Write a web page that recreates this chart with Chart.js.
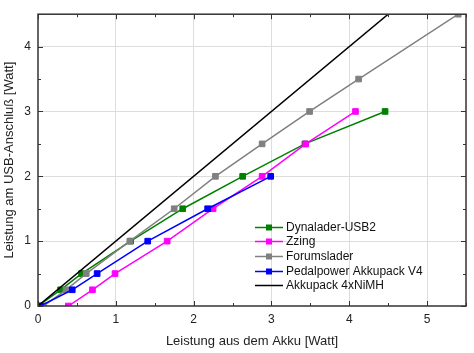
<!DOCTYPE html>
<html>
<head>
<meta charset="utf-8">
<script src="https://cdn.jsdelivr.net/npm/chart.js@4"></script>
<style>
html,body{margin:0;padding:0;background:#fff;}
#wrap{width:474px;height:353px;position:relative;}
</style>
</head>
<body>
<div id="wrap"><canvas id="c" width="474" height="353"></canvas></div>
<script>
const seriesNames = ["Dynalader-USB2", "Zzing", "Forumslader", "Pedalpower Akkupack V4", "Akkupack 4xNiMH"];
const dynaladerX = [0.0, 0.29, 0.56, 1.19, 1.86, 2.63, 3.43, 4.46];
const dynaladerY = [0, 0.25, 0.5, 1.0, 1.5, 2.0, 2.5, 3.0];
const zzingX = [0.39, 0.70, 0.99, 1.66, 2.25, 2.88, 3.44, 4.08];
const zzingY = [0, 0.25, 0.5, 1.0, 1.5, 2.0, 2.5, 3.0];
const forumsladerX = [0.07, 0.36, 0.62, 1.18, 1.75, 2.28, 2.88, 3.49, 4.12, 5.40];
const forumsladerY = [0, 0.25, 0.5, 1.0, 1.5, 2.0, 2.5, 3.0, 3.5, 4.5];
const pedalpowerX = [0.03, 0.44, 0.76, 1.41, 2.18, 2.99];
const pedalpowerY = [0, 0.25, 0.5, 1.0, 1.5, 2.0];
const akkupackX = [0.0, 4.5];
const akkupackY = [0.0, 4.5];
const xTicks = [0, 1, 2, 3, 4, 5];
const yTicks = [0, 1, 2, 3, 4];

const colors = ["#008000", "#ff00ff", "#808080", "#0000ff", "#000000"];
const markers = [true, true, true, true, false];
const xs = [dynaladerX, zzingX, forumsladerX, pedalpowerX, akkupackX];
const ys = [dynaladerY, zzingY, forumsladerY, pedalpowerY, akkupackY];

const datasets = seriesNames.map((name, i) => ({
  label: name,
  data: xs[i].map((x, j) => ({x: x, y: ys[i][j]})),
  showLine: true,
  borderColor: colors[i],
  backgroundColor: colors[i],
  borderWidth: 1.5,
  pointStyle: 'rect',
  pointRadius: markers[i] ? 4 : 0,
  pointBorderWidth: 1,
  pointBorderColor: colors[i],
  pointBackgroundColor: colors[i],
  order: 10 - i,
  tension: 0
}));

const FONT = "'Liberation Sans', Arial, sans-serif";

const framePlugin = {
  id: 'frame',
  afterDatasetsDraw(chart) {
    const ctx = chart.ctx;
    const a = chart.chartArea;
    const xs_ = chart.scales.x, ys_ = chart.scales.y;
    ctx.save();
    ctx.strokeStyle = '#333333';
    ctx.lineWidth = 1;
    // ticks inward
    for (let v = 0; v <= 5.5001; v += 0.5) {
      const px = Math.round(xs_.getPixelForValue(v)) + 0.5;
      const len = (Math.abs(v - Math.round(v)) < 1e-6) ? 5 : 3;
      ctx.beginPath();
      ctx.moveTo(px, a.bottom); ctx.lineTo(px, a.bottom - len);
      ctx.moveTo(px, a.top); ctx.lineTo(px, a.top + len);
      ctx.stroke();
    }
    for (let v = 0; v <= 4.5001; v += 0.5) {
      const py = Math.round(ys_.getPixelForValue(v)) + 0.5;
      const len = (Math.abs(v - Math.round(v)) < 1e-6) ? 5 : 3;
      ctx.beginPath();
      ctx.moveTo(a.left, py); ctx.lineTo(a.left + len, py);
      ctx.moveTo(a.right, py); ctx.lineTo(a.right - len, py);
      ctx.stroke();
    }
    ctx.lineWidth = 1.5;
    ctx.strokeRect(a.left, a.top, a.right - a.left, a.bottom - a.top);
    ctx.restore();
  },
  afterDraw(chart) {
    const ctx = chart.ctx;
    ctx.save();
    const y0 = 226.7, step = 14.65;
    chart.data.datasets.forEach((ds, i) => {
      const y = Math.round(y0 + i * step) + 0.5;
      ctx.strokeStyle = ds.borderColor;
      ctx.lineWidth = 1.5;
      ctx.beginPath();
      ctx.moveTo(255, y); ctx.lineTo(283, y);
      ctx.stroke();
      if (ds.pointRadius > 0) {
        ctx.fillStyle = ds.borderColor;
        ctx.fillRect(266, y - 3, 6, 6);
      }
      ctx.fillStyle = '#111111';
      ctx.font = "12px " + FONT;
      ctx.textBaseline = 'middle';
      ctx.textAlign = 'left';
      ctx.fillText(ds.label, 286, y + 0.5);
    });
    ctx.restore();
  }
};

const isInt = v => Math.abs(v - Math.round(v)) < 1e-6;

new Chart(document.getElementById('c'), {
  type: 'scatter',
  data: { datasets },
  plugins: [framePlugin],
  options: {
    responsive: false,
    animation: false,
    devicePixelRatio: 1,
    layout: { padding: { top: 6, right: 8, left: 0, bottom: 0 } },
    plugins: { legend: { display: false }, tooltip: { enabled: false } },
    scales: {
      x: {
        type: 'linear', min: 0, max: 5.5,
        afterFit: s => { s.height = 47; },
        border: { display: false },
        grid: {
          drawTicks: false,
          color: ctx => (isInt(ctx.tick.value) && ctx.tick.value > 0 && xTicks.includes(ctx.tick.value)) ? '#dddddd' : 'rgba(0,0,0,0)',
          lineWidth: 1
        },
        ticks: {
          stepSize: 0.5, autoSkip: false, maxRotation: 0, padding: 6,
          color: '#222222', font: { family: FONT, size: 12 },
          callback: v => xTicks.includes(v) ? String(v) : ''
        },
        title: {
          display: true, text: 'Leistung aus dem Akku [Watt]',
          color: '#222222', font: { family: FONT, size: 13 },
          padding: { top: 2, bottom: 4 }
        }
      },
      y: {
        type: 'linear', min: 0, max: 4.5,
        afterFit: s => { s.width = 38; },
        border: { display: false },
        grid: {
          drawTicks: false,
          color: ctx => (isInt(ctx.tick.value) && ctx.tick.value > 0 && yTicks.includes(ctx.tick.value)) ? '#dddddd' : 'rgba(0,0,0,0)',
          lineWidth: 1
        },
        ticks: {
          stepSize: 0.5, autoSkip: false, padding: 7,
          color: '#222222', font: { family: FONT, size: 12 },
          callback: v => yTicks.includes(v) ? String(v) : ''
        },
        title: {
          display: true, text: 'Leistung am USB-Anschluß [Watt]',
          color: '#222222', font: { family: FONT, size: 13 },
          padding: { top: 2, bottom: 2 }
        }
      }
    }
  }
});
</script>
</body>
</html>
